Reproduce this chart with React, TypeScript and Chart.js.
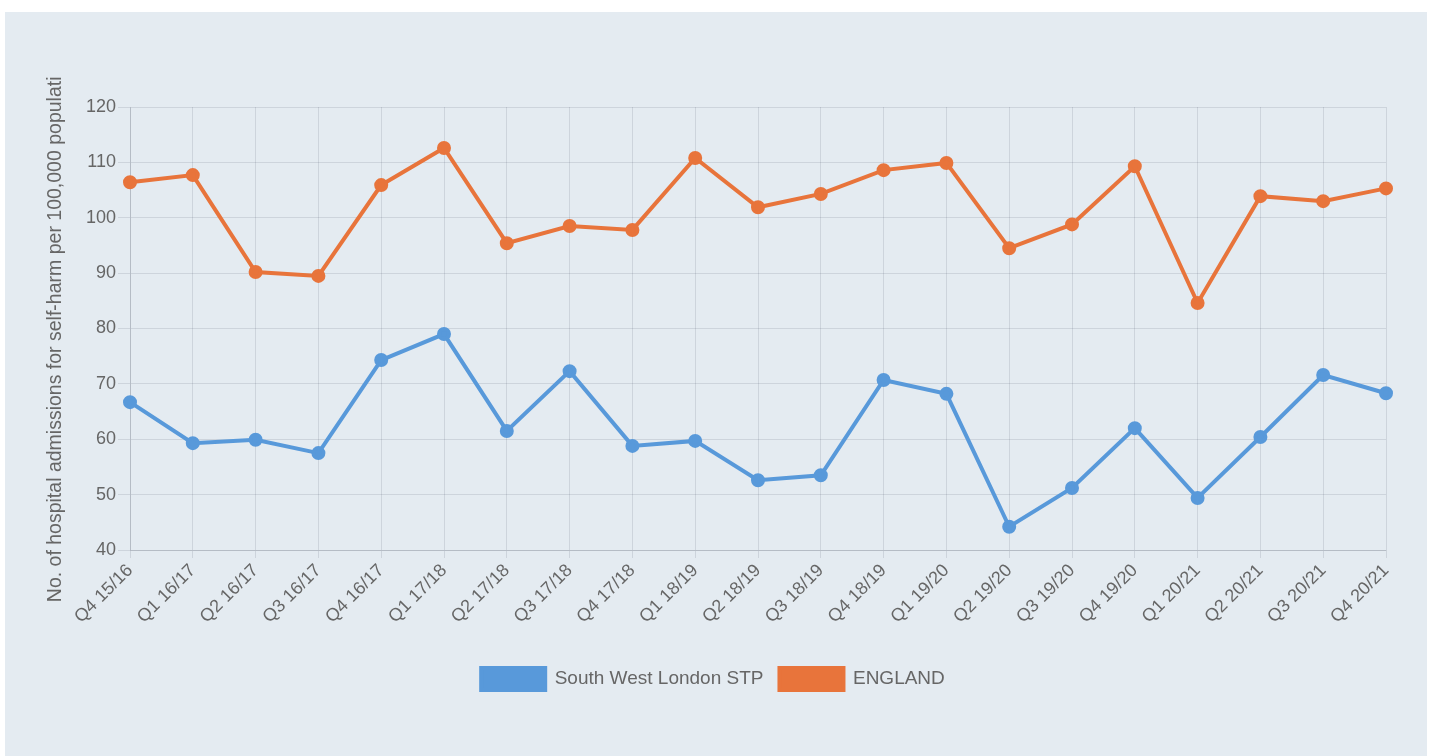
import React, { useEffect, useRef } from "react";
import { Chart, registerables } from "chart.js";

Chart.register(...registerables);

const categories = [
  "Q4 15/16", "Q1 16/17", "Q2 16/17", "Q3 16/17", "Q4 16/17", "Q1 17/18", "Q2 17/18",
  "Q3 17/18", "Q4 17/18", "Q1 18/19", "Q2 18/19", "Q3 18/19", "Q4 18/19", "Q1 19/20",
  "Q2 19/20", "Q3 19/20", "Q4 19/20", "Q1 20/21", "Q2 20/21", "Q3 20/21", "Q4 20/21",
];

const southWestLondon = [
  66.7, 59.3, 59.9, 57.5, 74.3, 79.0, 61.5, 72.3, 58.8, 59.7, 52.6,
  53.5, 70.7, 68.2, 44.2, 51.2, 62.0, 49.4, 60.4, 71.6, 68.3,
];

const england = [
  106.4, 107.7, 90.2, 89.5, 105.9, 112.6, 95.4, 98.5, 97.8, 110.8, 101.9,
  104.3, 108.6, 109.9, 94.5, 98.8, 109.3, 84.6, 103.9, 103.0, 105.3,
];

const seriesNames = ["South West London STP", "ENGLAND"];
const yTitle = "No. of hospital admissions for self-harm per 100,000 populati";

const BLUE = "#5899DA";
const ORANGE = "#E8743B";

export default function App() {
  const ref = useRef<HTMLCanvasElement | null>(null);

  useEffect(() => {
    if (!ref.current) return;
    const font = { family: "'Liberation Sans', Arial, sans-serif", size: 18 };
    const legendFont = { family: "'Liberation Sans', Arial, sans-serif", size: 19 };
    const titleFont = { family: "'Liberation Sans', Arial, sans-serif", size: 19.5 };
    const chart = new Chart(ref.current, {
      type: "line",
      data: {
        labels: categories,
        datasets: [
          {
            label: seriesNames[0],
            data: southWestLondon,
            borderColor: BLUE,
            backgroundColor: BLUE,
            pointBackgroundColor: BLUE,
            pointBorderColor: BLUE,
            borderWidth: 4,
            pointRadius: 5,
            tension: 0,
            fill: false,
          },
          {
            label: seriesNames[1],
            data: england,
            borderColor: ORANGE,
            backgroundColor: ORANGE,
            pointBackgroundColor: ORANGE,
            pointBorderColor: ORANGE,
            borderWidth: 4,
            pointRadius: 5,
            tension: 0,
            fill: false,
          },
        ],
      },
      options: {
        animation: false,
        responsive: false,
        maintainAspectRatio: false,
        layout: { padding: { left: 35, right: 41, top: 95, bottom: 56 } },
        plugins: {
          legend: {
            position: "bottom",
            labels: {
              boxWidth: 64,
              boxHeight: 22,
              padding: 16,
              color: "#666",
              font: legendFont,
            },
          },
          tooltip: { enabled: false },
        },
        scales: {
          x: {
            grid: { color: "rgba(40,50,70,0.12)", tickLength: 8 },
            border: { color: "rgba(40,50,70,0.15)" },
            ticks: {
              color: "#666",
              font,
              autoSkip: false,
              minRotation: 45,
              maxRotation: 45,
              padding: 2,
            },
            afterFit: (scale: any) => {
              scale.height = 102;
            },
          },
          y: {
            min: 40,
            max: 120,
            grid: { color: "rgba(40,50,70,0.12)", tickLength: 12 },
            border: { color: "rgba(40,50,70,0.15)" },
            ticks: { stepSize: 10, color: "#666", font, padding: 2 },
            title: { display: true, text: yTitle + "    ", color: "#666", font: titleFont },
            afterFit: (scale: any) => {
              scale.width = 90;
            },
          },
        },
      },
    });
    return () => chart.destroy();
  }, []);

  return (
    <div
      style={{
        position: "absolute",
        left: 5,
        top: 12,
        width: 1422,
        height: 744,
        background: "#E4EBF1",
      }}
    >
      <canvas ref={ref} width={1422} height={744} style={{ display: "block" }} />
    </div>
  );
}
